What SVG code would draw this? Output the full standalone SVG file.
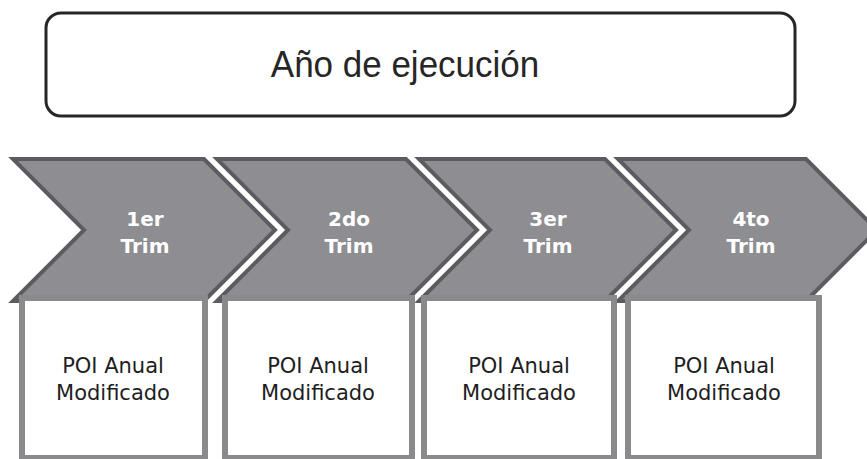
<svg xmlns="http://www.w3.org/2000/svg" width="867" height="459" viewBox="0 0 867 459">
  <style>
    .year { fill: #ffffff; stroke: #262626; stroke-width: 3; }
    .yeartxt { font-family: "Liberation Sans", Arial, sans-serif; font-size: 35px; fill: #262626; text-anchor: middle; }
    .chev { fill: #8d8d92; stroke: #5c5c60; stroke-width: 4; stroke-linejoin: miter; }
    .chevtxt { font-family: "DejaVu Sans", Verdana, sans-serif; font-weight: bold; font-size: 20px; fill: #ffffff; text-anchor: middle; }
    .box { fill: #ffffff; stroke: #8a8a8d; stroke-width: 6; }
    .boxtxt { font-family: "DejaVu Sans", Verdana, sans-serif; font-size: 21px; fill: #1e1e1e; text-anchor: middle; }
  </style>
  <rect width="867" height="459" fill="#ffffff"/>

  <g id="anio">
    <rect class="year" x="46" y="13" width="749" height="103" rx="15" ry="15"/>
    <text class="yeartxt" transform="translate(405,77) scale(1,1.08)" x="0" y="0">Año de ejecución</text>
  </g>

  <g id="trim1">
    <polygon class="chev" points="13,159 204,159 275,230 204,301 13,301 84,230"/>
    <text class="chevtxt" x="145" y="226">1er</text>
    <text class="chevtxt" x="145" y="253">Trim</text>
  </g>
  <g id="trim2">
    <polygon class="chev" points="217,159 406,159 477,230 406,301 217,301 288,230"/>
    <text class="chevtxt" x="349" y="226">2do</text>
    <text class="chevtxt" x="349" y="253">Trim</text>
  </g>
  <g id="trim3">
    <polygon class="chev" points="419,159 605,159 676,230 605,301 419,301 490,230"/>
    <text class="chevtxt" x="548" y="226">3er</text>
    <text class="chevtxt" x="548" y="253">Trim</text>
  </g>
  <g id="trim4">
    <polygon class="chev" points="618,159 806,159 877,230 806,301 618,301 689,230"/>
    <text class="chevtxt" x="751" y="226">4to</text>
    <text class="chevtxt" x="751" y="253">Trim</text>
  </g>

  <g id="poi1">
    <rect class="box" x="22" y="298" width="183" height="160"/>
    <text class="boxtxt" x="113" y="373">POI Anual</text>
    <text class="boxtxt" x="113" y="400">Modificado</text>
  </g>
  <g id="poi2">
    <rect class="box" x="225" y="298" width="187" height="160"/>
    <text class="boxtxt" x="318" y="373">POI Anual</text>
    <text class="boxtxt" x="318" y="400">Modificado</text>
  </g>
  <g id="poi3">
    <rect class="box" x="424" y="298" width="190" height="160"/>
    <text class="boxtxt" x="519" y="373">POI Anual</text>
    <text class="boxtxt" x="519" y="400">Modificado</text>
  </g>
  <g id="poi4">
    <rect class="box" x="628" y="298" width="191" height="160"/>
    <text class="boxtxt" x="724" y="373">POI Anual</text>
    <text class="boxtxt" x="724" y="400">Modificado</text>
  </g>
</svg>
